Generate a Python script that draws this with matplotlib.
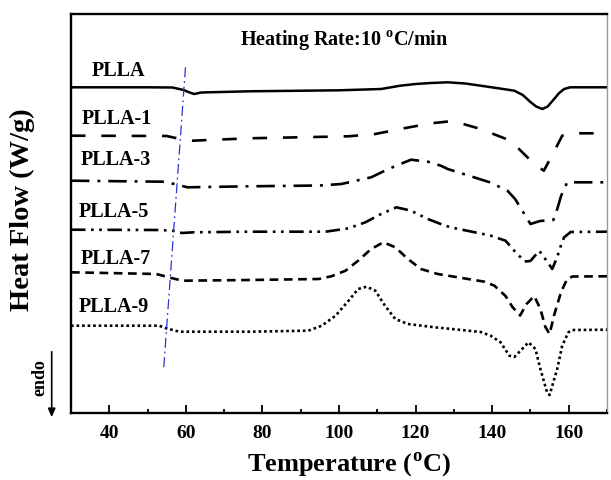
import matplotlib
matplotlib.use("Agg")
import matplotlib.pyplot as plt
from matplotlib.ticker import MultipleLocator

plt.rcParams['font.family'] = ['Liberation Serif', 'DejaVu Serif']
plt.rcParams['font.weight'] = 'bold'
plt.rcParams['mathtext.fontset'] = 'custom'
plt.rcParams['mathtext.rm'] = 'Liberation Serif:bold'
plt.rcParams['mathtext.bf'] = 'Liberation Serif:bold'

# ---- data (temperature in C, heat flow in arbitrary offset units) ----
t_plla = [30, 50, 56.5, 59.4, 61, 62.2, 64, 76.5, 100, 111, 116, 120, 124, 128.4, 133, 137, 142,
          145.8, 148, 150, 151.5, 153.1, 154.5, 156.2, 157.5, 158.8, 160.4, 170]
hf_plla = [32.57, 32.57, 32.55, 32.3, 32.05, 31.9, 32.05, 32.17, 32.27, 32.4, 32.73, 32.9, 33.0, 33.07,
           32.95, 32.73, 32.45, 32.23, 31.8, 31.1, 30.65, 30.4, 30.65, 31.4, 32.0, 32.4, 32.57, 32.57]

t_plla1 = [30, 55, 58.5, 61.7, 76.5, 102.5, 109.5, 116, 124, 128.5, 132, 137, 144.8, 151, 153.5,
           156.3, 158.3, 160, 170]
hf_plla1 = [27.73, 27.7, 27.4, 27.23, 27.47, 27.67, 27.9, 28.4, 28.97, 29.15, 28.95, 28.4, 27.23,
            24.9, 24.23, 26.23, 27.73, 27.97, 27.97]

t_plla3 = [30, 54, 57, 60.4, 76.5, 95, 100.6, 108.4, 112.9, 118.8, 123.2, 126.6, 128.4, 139.4, 144,
           146, 148.4, 150, 152.5, 156, 157, 158, 159.6, 170]
hf_plla3 = [23.23, 23.13, 22.9, 22.57, 22.67, 22.75, 22.9, 23.57, 24.4, 25.33, 25.13, 24.73, 24.4,
            23.07, 22.23, 21.4, 19.9, 18.9, 19.2, 19.3, 20.4, 21.7, 23.07, 23.07]

t_plla5 = [30, 53, 56.5, 59, 62, 76.5, 96.5, 102.5, 106.9, 111, 115, 118.8, 123.2, 127.7, 130, 139.5,
           143.5, 146, 148.5, 150, 152.3, 154.2, 155.7, 157, 157.8, 158.8, 160.5, 170]
hf_plla5 = [18.33, 18.3, 18.23, 18.0, 18.07, 18.13, 18.13, 18.47, 19.07, 19.9, 20.57, 20.23, 19.4,
            18.73, 18.5, 17.75, 17.23, 16.13, 15.15, 15.2, 16.23, 15.23, 14.4, 15.6, 16.57, 17.57,
            18.1, 18.13]

t_plla7 = [30, 52.3, 56.2, 59.1, 76.5, 94.7, 98, 101.7, 105, 108.4, 111.6, 114.7, 118, 121.4, 125.8,
           131, 138, 140.6, 143.5, 145.3, 147.3, 149, 151, 152.6, 153.9, 155, 156.2, 158, 159.6, 161, 170]
hf_plla7 = [14.07, 13.9, 13.5, 13.23, 13.3, 13.4, 13.67, 14.23, 15.23, 16.4, 17.07, 16.57, 15.4, 14.4,
            13.9, 13.57, 13.13, 12.73, 11.7, 10.6, 9.75, 10.9, 11.7, 10.4, 8.6, 7.9, 9.8, 12.1, 13.4,
            13.65, 13.67]

t_plla9 = [30, 53, 54.9, 58.3, 76.5, 92, 95.5, 99.1, 102.5, 105, 107.2, 109.5, 112, 114.7, 118, 125,
           132, 137, 139.6, 142.2, 144.5, 145.8, 147, 149.5, 151.3, 152.6, 154.4, 155, 157, 158.3,
           159.9, 161, 170]
hf_plla9 = [8.73, 8.73, 8.47, 8.13, 8.13, 8.23, 8.73, 9.73, 11.23, 12.4, 12.63, 12.23, 10.73, 9.4, 8.9,
            8.57, 8.3, 8.1, 7.73, 7.07, 5.73, 5.6, 6.07, 7.07, 6.4, 4.4, 2.0, 1.8, 4.4, 6.73, 8.07,
            8.3, 8.33]

# Tg guide line
t_tg = [59.9, 54.2]
hf_tg = [34.57, 4.4]

names = ['PLLA', 'PLLA-1', 'PLLA-3', 'PLLA-5', 'PLLA-7', 'PLLA-9']
label_t = [35.5, 32.8, 32.6, 32.0, 32.6, 32.0]
label_hf = [34.33, 29.47, 25.4, 20.23, 15.5, 10.73]

xticks = [40, 60, 80, 100, 120, 140, 160]

# ---- figure ----
fig = plt.figure(figsize=(6.11, 4.81), dpi=100)
ax = fig.add_axes([71 / 611, 67 / 481, 536 / 611, 399 / 481])

series = [(t_plla, hf_plla, '-', 1.8),
          (t_plla1, hf_plla1, (0, (5.5, 6)), 1.9),
          (t_plla3, hf_plla3, (0, (7, 3, 1.1, 3)), 1.9),
          (t_plla5, hf_plla5, (0, (5.5, 2.1, 1.0, 2.1, 1.0, 2.1)), 1.9),
          (t_plla7, hf_plla7, (0, (3.3, 2.1)), 1.9),
          (t_plla9, hf_plla9, (0, (1, 1.1)), 1.9)]
for x, y, ls, lw in series:
    ax.plot(x, y, color='black', linestyle=ls, linewidth=lw)

ax.plot(t_tg, hf_tg, color='#2a35d0', linestyle=(0, (8, 3, 1.5, 3)), linewidth=0.9)

for n, tx, ty in zip(names, label_t, label_hf):
    ax.text(tx, ty, n, fontsize=14.5, fontweight='bold', va='center', ha='left')

ax.text(101.4, 37.4, r'Heating Rate:10 $^{\rm o}$C/min', fontsize=14.5, fontweight='bold',
        ha='center', va='center')

ax.set_xlim(30, 170)
ax.set_ylim(0, 39.9)
ax.set_xticks(xticks)
ax.set_xticklabels([str(v) for v in xticks])
ax.xaxis.set_minor_locator(MultipleLocator(10))
ax.set_yticks([])
ax.tick_params(axis='x', which='major', direction='in', length=5.5, width=1.3, labelsize=14, pad=8)
ax.tick_params(axis='x', which='minor', direction='in', length=3, width=1.3)
ax.tick_params(axis='x', top=False, which='both')

for s in ['left', 'top', 'bottom']:
    ax.spines[s].set_linewidth(1.7)
ax.spines['right'].set_linewidth(1.0)
ax.spines['right'].set_color('#999999')

fig.text(349 / 611, 1 - 465 / 481, r'Temperature ($^{\rm o}$C)', fontsize=19, fontweight='bold',
         ha='center', va='center')
fig.text(22.5 / 611, 1 - 210 / 481, 'Heat Flow (W/g)', fontsize=20.5, fontweight='bold',
         ha='center', va='center', rotation=90)

fig.text(40 / 611, 1 - 378 / 481, 'endo', fontsize=13, fontweight='bold', ha='center', va='center',
         rotation=90)
fig.add_artist(matplotlib.patches.FancyArrowPatch((51.7 / 611, 1 - 350 / 481), (51.7 / 611, 1 - 421 / 481),
               transform=fig.transFigure, arrowstyle='-|>,head_length=5,head_width=2.2',
               color='black', linewidth=1.2, mutation_scale=1))

fig.savefig('out.png', dpi=100)
